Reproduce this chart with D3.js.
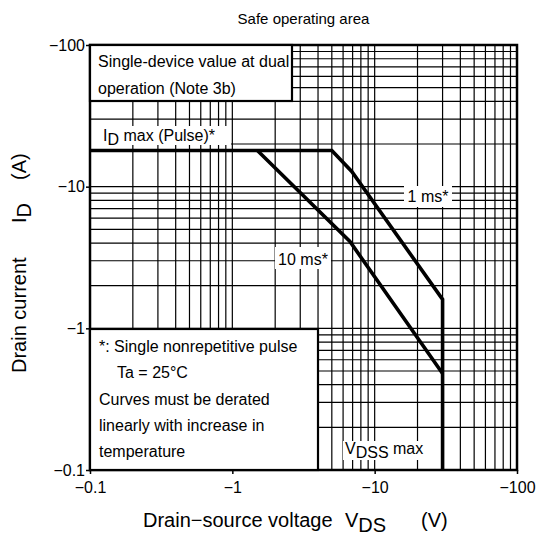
<!DOCTYPE html>
<html>
<head>
<meta charset="utf-8">
<script src="https://cdn.jsdelivr.net/npm/d3@7/dist/d3.min.js"></script>
<style>
  html, body { margin: 0; padding: 0; background: #fff; }
  svg { display: block; font-family: "Liberation Sans", Arial, Helvetica, sans-serif; }
</style>
</head>
<body>
<svg id="chart" width="536" height="544"></svg>
<script>
// ---- data ----
const xDomain = [0.1, 100];
const yDomain = [0.1, 100];
const xTickValues = [0.1, 1, 10, 100];
const xTickLabels = ["\u22120.1", "\u22121", "\u221210", "\u2212100"];
const yTickValues = [0.1, 1, 10, 100];
const yTickLabels = ["\u22120.1", "\u22121", "\u221210", "\u2212100"];
// 1 ms curve including ID max (pulse) and VDSS max limits
const ms1Voltage = [0.1, 5, 6.9, 30, 30];
const ms1Current = [18, 18, 12.8, 1.6, 0.1];
// 10 ms curve
const ms10Voltage = [1.5, 6.7, 30];
const ms10Current = [18, 4.1, 0.48];

// ---- layout ----
const svg = d3.select("#chart");
const L = 90, R = 517, T = 45, B = 470;
const x = d3.scaleLog().domain(xDomain).range([L, R]);
const y = d3.scaleLog().domain(yDomain).range([B, T]);

// grid values: 1..9 per decade
const gridVals = [];
[0.1, 1, 10].forEach(d => { for (let k = 1; k <= 9; k++) gridVals.push(d * k); });
gridVals.push(100);

const grid = svg.append("g").attr("stroke", "#000").attr("stroke-width", 1.2);
grid.selectAll("line.v").data(gridVals).join("line").attr("class", "v")
  .attr("x1", d => x(d)).attr("x2", d => x(d)).attr("y1", T).attr("y2", B);
grid.selectAll("line.h").data(gridVals).join("line").attr("class", "h")
  .attr("y1", d => y(d)).attr("y2", d => y(d)).attr("x1", L).attr("x2", R);

// curves
const line = d3.line().x(d => x(d[0])).y(d => y(d[1]));
const ms1 = ms1Voltage.map((v, i) => [v, ms1Current[i]]);
const ms10 = ms10Voltage.map((v, i) => [v, ms10Current[i]]);
svg.append("path").datum(ms1).attr("d", line).attr("fill", "none")
  .attr("stroke", "#000").attr("stroke-width", 3.6).attr("stroke-linejoin", "miter");
svg.append("path").datum(ms10).attr("d", line).attr("fill", "none")
  .attr("stroke", "#000").attr("stroke-width", 3.6).attr("stroke-linejoin", "miter");

// white-background labels
function bgLabel(x0, y0, w, h) {
  svg.append("rect").attr("x", x0).attr("y", y0).attr("width", w).attr("height", h).attr("fill", "#fff");
}
bgLabel(L + 1, 126, 140, 19);
bgLabel(404, 186, 48, 21);
bgLabel(275, 247, 56, 22);
bgLabel(343, 441, 84, 19);

const fs = 16;
// ID max (Pulse)*
const t1 = svg.append("text").attr("x", 103).attr("y", 141).attr("font-size", fs);
t1.append("tspan").text("I");
t1.append("tspan").attr("dy", 4).text("D");
t1.append("tspan").attr("dy", -4).text(" max (Pulse)*");

svg.append("text").attr("x", 428).attr("y", 202).attr("font-size", fs)
  .attr("text-anchor", "middle").text("1 ms*");
svg.append("text").attr("x", 303).attr("y", 265).attr("font-size", fs)
  .attr("text-anchor", "middle").text("10 ms*");
const t2 = svg.append("text").attr("x", 345).attr("y", 454).attr("font-size", fs);
t2.append("tspan").text("V");
t2.append("tspan").attr("dy", 4).text("DSS");
t2.append("tspan").attr("dy", -4).text(" max");

// plot border
svg.append("rect").attr("x", L).attr("y", T).attr("width", R - L).attr("height", B - T)
  .attr("fill", "none").attr("stroke", "#000").attr("stroke-width", 2.5);

// boxes
svg.append("rect").attr("x", L).attr("y", T).attr("width", 292 - L).attr("height", 101 - T)
  .attr("fill", "#fff").attr("stroke", "#000").attr("stroke-width", 2.2);
svg.append("text").attr("x", 98).attr("y", 67).attr("font-size", fs).text("Single-device value at dual");
svg.append("text").attr("x", 98).attr("y", 94).attr("font-size", fs).text("operation (Note 3b)");

svg.append("rect").attr("x", L).attr("y", 329).attr("width", 318 - L).attr("height", B - 329)
  .attr("fill", "#fff").attr("stroke", "#000").attr("stroke-width", 2.2);
const noteLines = [
  { x: 99, y: 352, t: "*:  Single nonrepetitive pulse" },
  { x: 117, y: 378, t: "Ta = 25\u00B0C" },
  { x: 99, y: 405, t: "Curves must be derated" },
  { x: 99, y: 431, t: "linearly with increase in" },
  { x: 99, y: 457, t: "temperature" }
];
svg.selectAll("text.note").data(noteLines).join("text").attr("class", "note")
  .attr("x", d => d.x).attr("y", d => d.y).attr("font-size", fs).text(d => d.t);

// axes (outward ticks at decades)
const xAxis = d3.axisBottom(x).tickValues(xTickValues)
  .tickFormat((d, i) => xTickLabels[i]).tickSize(4).tickPadding(8);
const gx = svg.append("g").attr("transform", `translate(0,${B})`).call(xAxis);
gx.select(".domain").remove();
gx.selectAll("line").attr("stroke", "#000").attr("stroke-width", 1.5);
gx.selectAll("text").attr("font-size", 16).attr("font-family", "Liberation Sans, Arial, sans-serif").attr("fill", "#000");

const yAxis = d3.axisLeft(y).tickValues(yTickValues)
  .tickFormat((d, i) => yTickLabels[i]).tickSize(4).tickPadding(1);
const gy = svg.append("g").attr("transform", `translate(${L},0)`).call(yAxis);
gy.select(".domain").remove();
gy.selectAll("line").attr("stroke", "#000").attr("stroke-width", 1.5);
gy.selectAll("text").attr("font-size", 16).attr("font-family", "Liberation Sans, Arial, sans-serif").attr("fill", "#000");

// title
svg.append("text").attr("x", (L + R) / 2).attr("y", 24).attr("text-anchor", "middle")
  .attr("font-size", 15).text("Safe operating area");

// x axis title
const xt = svg.append("text").attr("x", 143).attr("y", 527).attr("font-size", 20);
xt.append("tspan").text("Drain\u2212source voltage");
xt.append("tspan").attr("x", 345).text("V");
xt.append("tspan").attr("dy", 5).text("DS");
xt.append("tspan").attr("dy", -5).attr("x", 421).text("(V)");

// y axis title
const yt = svg.append("text").attr("transform", "translate(26,373) rotate(-90)").attr("font-size", 20);
yt.append("tspan").attr("x", 0).text("Drain current");
yt.append("tspan").attr("x", 150).text("I");
yt.append("tspan").attr("dy", 5).text("D");
yt.append("tspan").attr("dy", -5).attr("x", 193).text("(A)");
</script>
</body>
</html>
